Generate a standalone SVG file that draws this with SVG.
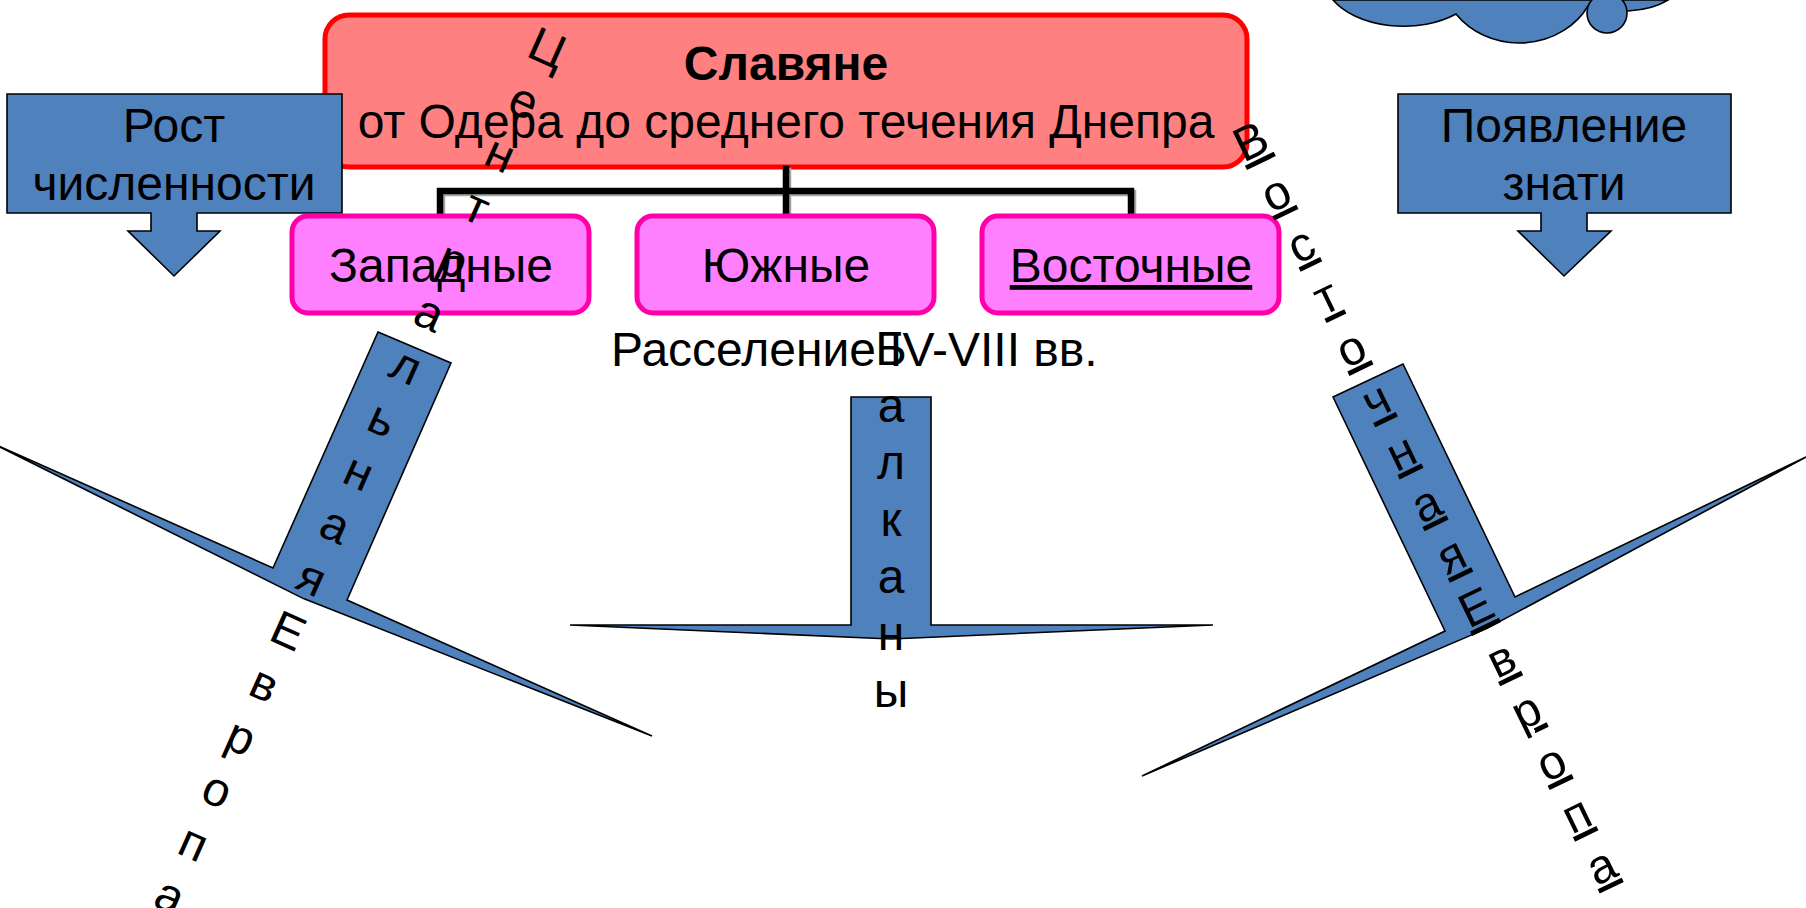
<svg xmlns="http://www.w3.org/2000/svg" width="1806" height="908" viewBox="0 0 1806 908">
<style>
  text { font-family: "Liberation Sans", Arial, sans-serif; font-size: 48px; fill: #000; }
  .c { text-anchor: middle; }
  .blue { fill: #4F81BD; stroke: #000; stroke-width: 1.6; stroke-linejoin: miter; }
  .sub { fill: #FF80FF; stroke: #FF00A8; stroke-width: 5; }
  .conn { fill: none; stroke: #000; stroke-width: 6.5; stroke-linecap: square; }
  .shadow { fill: none; stroke: #A6A6A6; stroke-width: 6.5; stroke-linecap: square; }
</style>
<rect x="0" y="0" width="1806" height="908" fill="#FFFFFF"/>

<g id="cloud">
  <path class="blue" d="M1333,0 A80 50 0 0 0 1456,14 A78 70 0 0 0 1588,6 A60 30 0 0 0 1668,0 Z"/>
  <circle class="blue" cx="1607" cy="13" r="20"/>
</g>

<g id="main">
  <rect x="325" y="15" width="922" height="152" rx="24" ry="24" fill="#FF8080" stroke="#FF0000" stroke-width="5"/>
  <text class="c" x="786" y="80" font-weight="bold">Славяне</text>
  <text class="c" x="786" y="138">от Одера до среднего течения Днепра</text>
</g>

<g id="growth">
  <path class="blue" d="M7,94 H342 V213 H197 V231 H220 L174,276 L128,231 H151 V213 H7 Z"/>
  <text class="c" x="174" y="142">Рост</text>
  <text class="c" x="174" y="200">численности</text>
</g>

<g id="nobility">
  <path class="blue" d="M1398,94 H1731 V213 H1587 V231 H1611 L1564,276 L1518,231 H1541 V213 H1398 Z"/>
  <text class="c" x="1564" y="142">Появление</text>
  <text class="c" x="1564" y="200">знати</text>
</g>

<g id="connectors">
  <path class="shadow" d="M788,171 V193 M442,217 V193 H1133 V217 M788,193 V217"/>
  <path class="conn" d="M786,169 V191 M440,215 V191 H1131 V215 M786,191 V215"/>
</g>

<g id="west">
  <rect class="sub" x="292" y="216" width="297" height="97" rx="16" ry="16"/>
  <text class="c" x="441" y="282">Западные</text>
</g>
<g id="south">
  <rect class="sub" x="637" y="216" width="297" height="97" rx="16" ry="16"/>
  <text class="c" x="786" y="282">Южные</text>
</g>
<g id="east">
  <rect class="sub" x="982" y="216" width="297" height="97" rx="16" ry="16"/>
  <text class="c" x="1131" y="282" text-decoration="underline">Восточные</text>
</g>

<g id="arrow-central">
  <path class="blue" d="M378,332 L451,363 L347,600 L652,736 L303.5,598.6 L-6,444 L273,568 Z"/>
</g>
<g id="arrow-balkans">
  <path class="blue" d="M851,397 H931 V625 H1213 L891,639 L570,625 H851 Z"/>
</g>
<g id="arrow-east">
  <path class="blue" d="M1333,397 L1403,364 L1515,597 L1806,457 L1487,628.4 L1142,776 L1445,631 Z"/>
</g>

<g id="settlement">
  <text x="611" y="366">Расселение IV-VIII вв.</text>
</g>

<g id="label-balkans">
  <text class="c"><tspan x="891" y="365">Б</tspan><tspan x="891" y="422">а</tspan><tspan x="891" y="479">л</tspan><tspan x="891" y="536">к</tspan><tspan x="891" y="593">а</tspan><tspan x="891" y="650">н</tspan><tspan x="891" y="707">ы</tspan></text>
</g>

<g id="label-central">
  <text class="c" transform="translate(541,63) rotate(24)"><tspan x="0" y="0">Ц</tspan><tspan x="0" y="58">е</tspan><tspan x="0" y="116">н</tspan><tspan x="0" y="174">т</tspan><tspan x="0" y="232">р</tspan><tspan x="0" y="290">а</tspan><tspan x="0" y="348">л</tspan><tspan x="0" y="406">ь</tspan><tspan x="0" y="464">н</tspan><tspan x="0" y="522">а</tspan><tspan x="0" y="580">я</tspan><tspan x="0" y="638">Е</tspan><tspan x="0" y="696">в</tspan><tspan x="0" y="754">р</tspan><tspan x="0" y="812">о</tspan><tspan x="0" y="870">п</tspan><tspan x="0" y="928">а</tspan></text>
</g>

<g id="label-east">
  <text class="c" text-decoration="underline" transform="translate(1258,156) rotate(-25.8)"><tspan x="0" y="0">В</tspan><tspan x="0" y="57.5">о</tspan><tspan x="0" y="115">с</tspan><tspan x="0" y="172.5">т</tspan><tspan x="0" y="230">о</tspan><tspan x="0" y="287.5">ч</tspan><tspan x="0" y="345">н</tspan><tspan x="0" y="402.5">а</tspan><tspan x="0" y="460">я</tspan><tspan x="0" y="517.5">Е</tspan><tspan x="0" y="575">в</tspan><tspan x="0" y="632.5">р</tspan><tspan x="0" y="690">о</tspan><tspan x="0" y="747.5">п</tspan><tspan x="0" y="805">а</tspan></text>
</g>
</svg>
